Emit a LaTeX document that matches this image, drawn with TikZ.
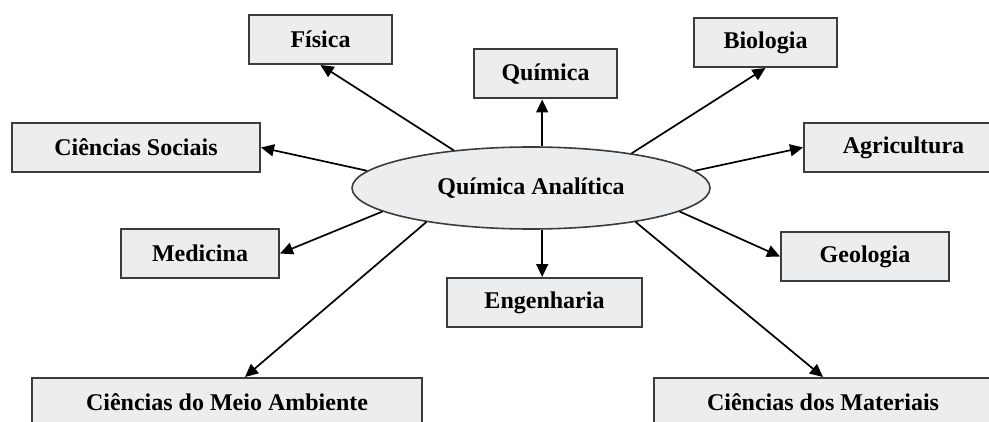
\documentclass[tikz,border=0pt]{standalone}
\usepackage{fontspec}
\setmainfont{Liberation Serif}
\usetikzlibrary{arrows.meta,shapes.geometric}
\definecolor{boxfill}{RGB}{236,237,239}
\definecolor{boxline}{RGB}{60,60,60}

\begin{document}
\begin{tikzpicture}[x=0.5pt,y=-0.5pt,
	every node/.style={font=\fontsize{12}{14}\selectfont\bfseries},
	area/.style={draw=boxline,fill=boxfill,line width=1pt,minimum height=24.5pt,inner sep=2pt},
	link/.style={line width=0.85pt,-{Triangle[length=6.5pt,width=6pt]}}]
		\useasboundingbox (0,0) rectangle (989,422);
		\clip (0,0) rectangle (989,422);
		\node[draw=boxline,fill=boxfill,line width=0.8pt,ellipse,minimum width=179pt,minimum height=41pt,inner sep=0pt] (qa) at (531,188) {Química Analítica}; % centre
		\node[area,minimum width=71.5pt] (fis) at (320.5,39.5) {Física};
		\node[area,minimum width=71.5pt] (qui) at (545.5,74) {Química};
		\node[area,minimum width=71.5pt] (bio) at (765.5,42.5) {Biologia};
		\node[area,minimum width=124pt] (soc) at (136,147.5) {Ciências Sociais};
		\node[area,minimum width=99.5pt] (agr) at (903.5,147.5) {Agricultura};
		\node[area,minimum width=79pt] (med) at (200,253.5) {Medicina};
		\node[area,minimum width=84pt] (geo) at (865,256.5) {Geologia};
		\node[area,minimum width=97.5pt] (eng) at (544.5,302.5) {Engenharia};
		\node[area,minimum width=195pt] (mam) at (227,402.5) {Ciências do Meio Ambiente}; % cut by the page
		\node[area,minimum width=169pt] (mat) at (823,402.5) {Ciências dos Materiais}; % cut by the page
		% arrows out of the ellipse
		\draw[link] (qa.154) -- (fis.south);
		\draw[link] (qa.75) -- (qa.75 |- qui.south);
		\draw[link] (qa.19) -- (bio.south);
		\draw[link] (qa.174) -- (soc.east);
		\draw[link] (qa.6) -- (agr.west);
		\draw[link] (qa.189) -- (med.east);
		\draw[link] (qa.351) -- (geo.west);
		\draw[link] (qa.285) -- (qa.285 |- eng.north);
		\draw[link] (qa.198) -- ([xshift=9pt]mam.north);
		\draw[link] (qa.342) -- (mat.north);
\end{tikzpicture}
\end{document}
